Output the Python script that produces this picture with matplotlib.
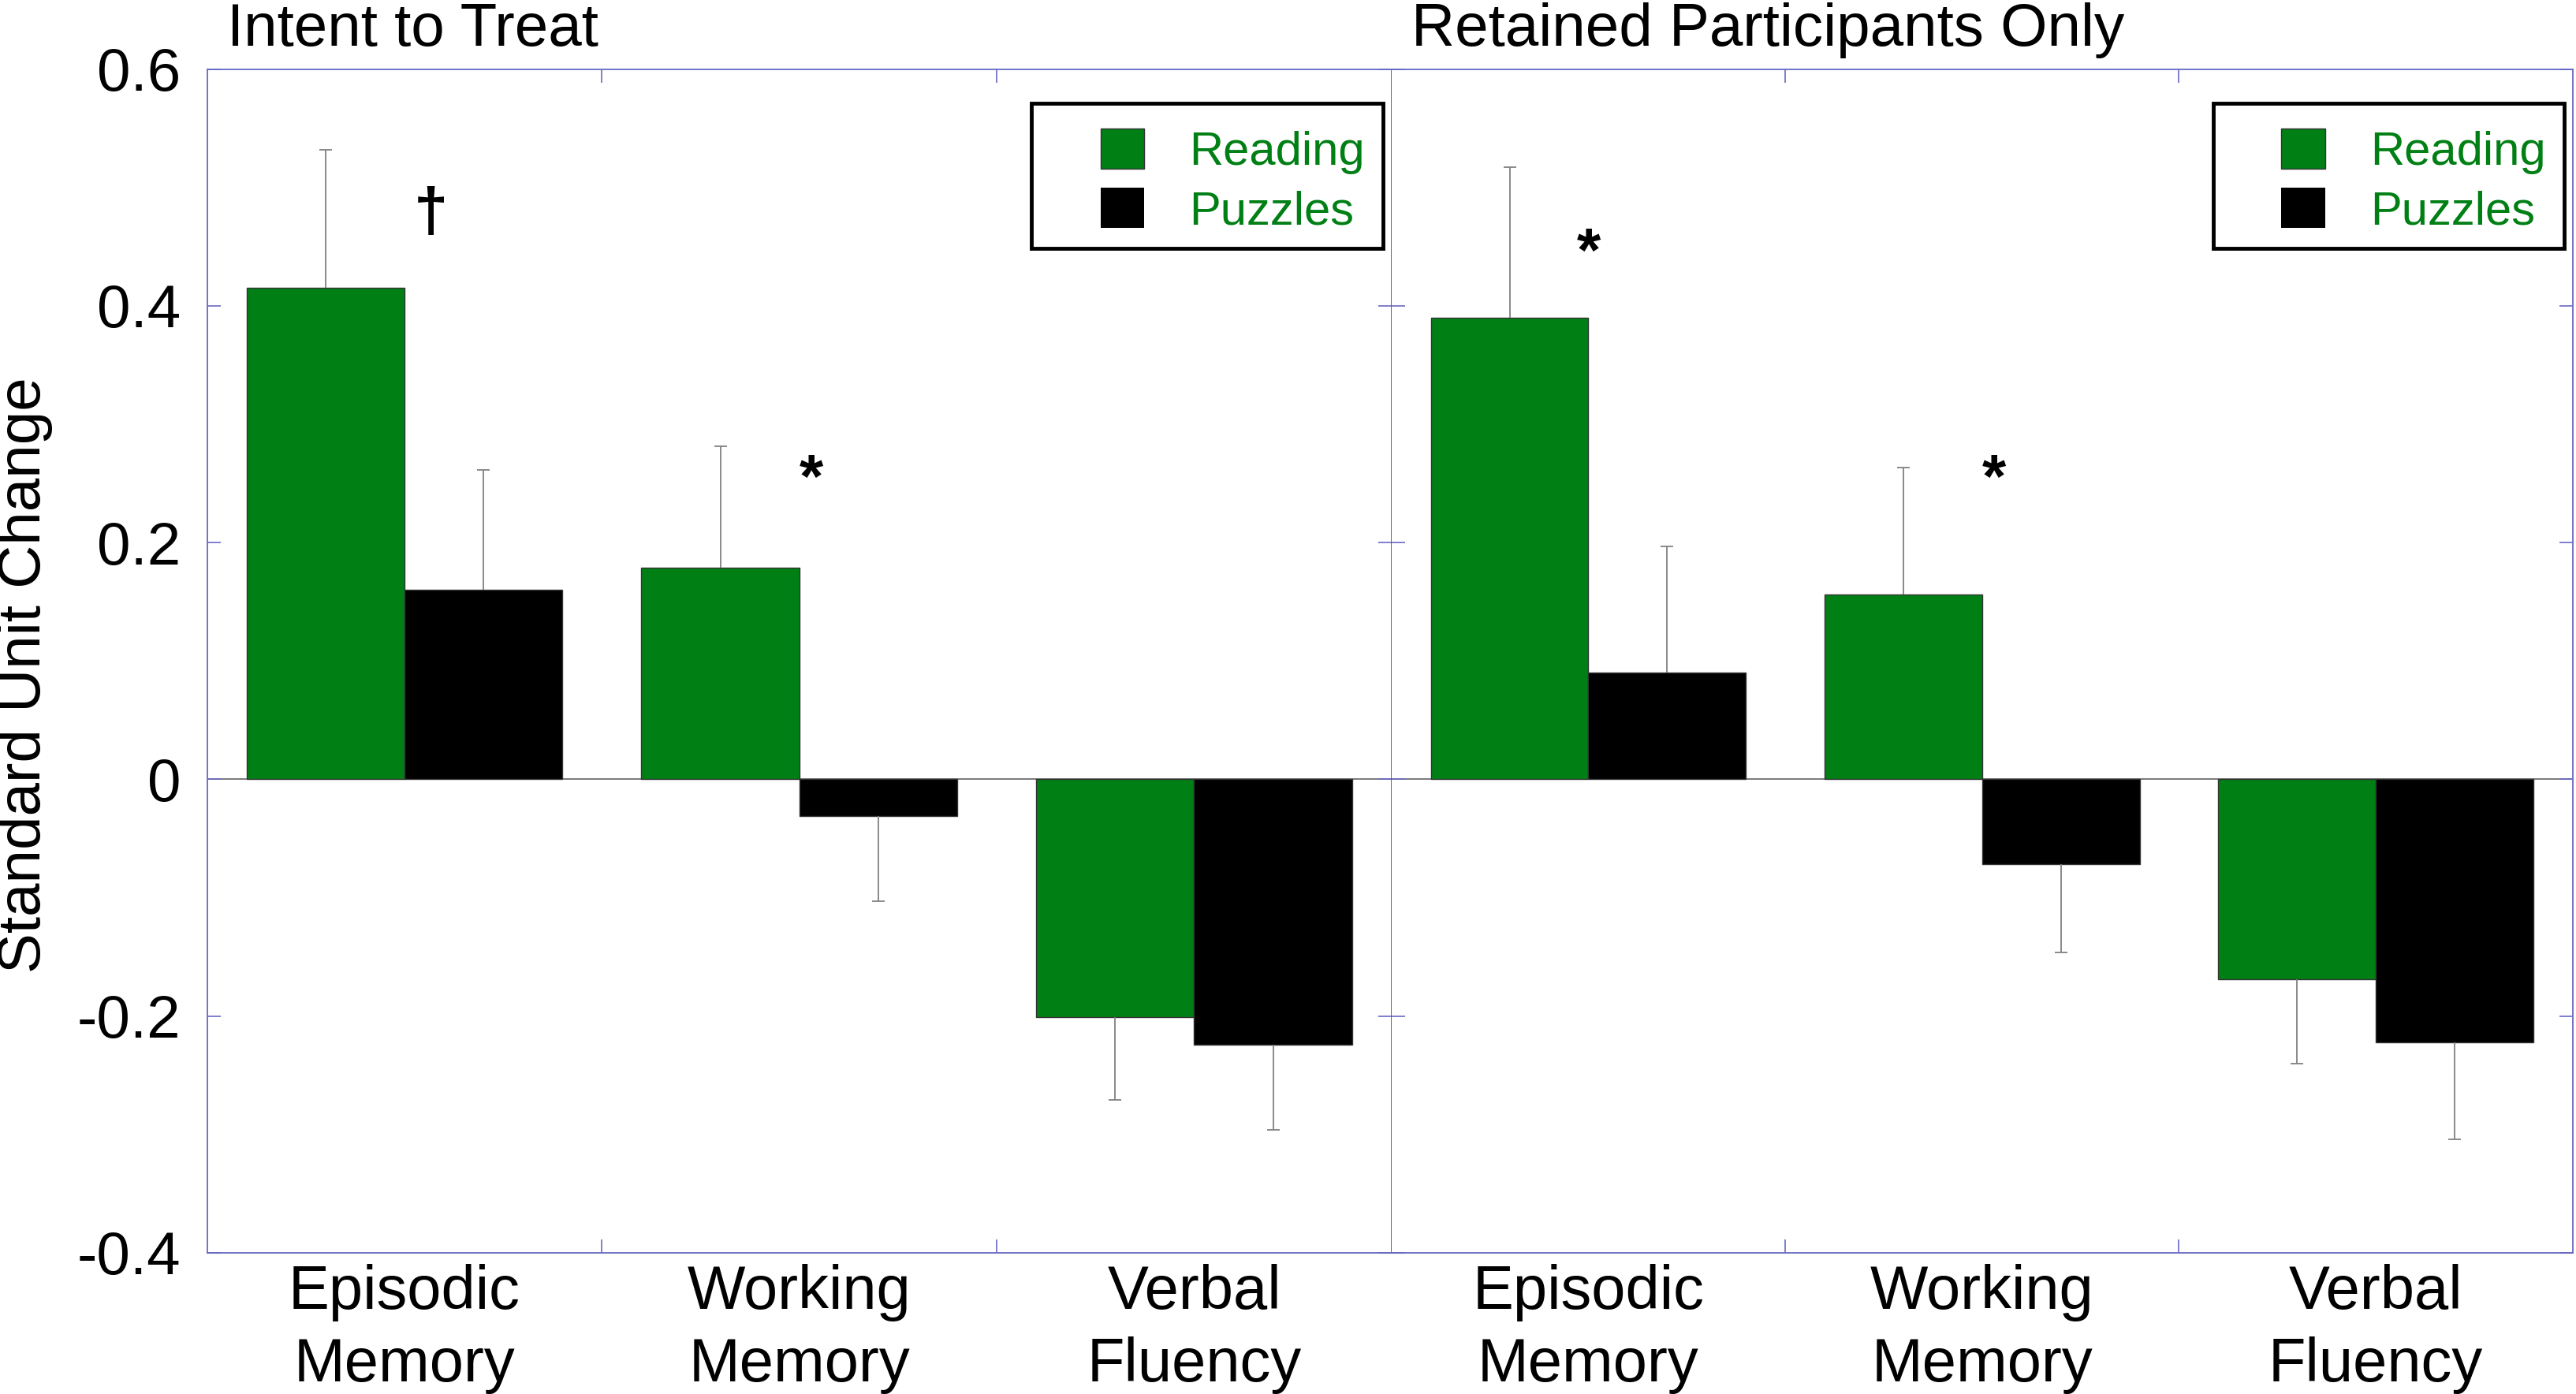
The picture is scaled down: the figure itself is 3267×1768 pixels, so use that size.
import matplotlib
matplotlib.use('Agg')
import matplotlib.pyplot as plt
import numpy as np
from matplotlib.patches import Rectangle, Patch

plt.rcParams['font.family'] = ['Liberation Sans', 'DejaVu Sans']

categories = ['Episodic\nMemory', 'Working\nMemory', 'Verbal\nFluency']
panel_titles = ['Intent to Treat', 'Retained Participants Only']
series = ['Reading', 'Puzzles']

# intent to treat
itt_reading = [0.415, 0.179, -0.201]
itt_reading_err = [0.117, 0.102, 0.070]
itt_puzzles = [0.160, -0.031, -0.224]
itt_puzzles_err = [0.101, 0.072, 0.072]

# retained participants only
ret_reading = [0.390, 0.156, -0.169]
ret_reading_err = [0.127, 0.107, 0.071]
ret_puzzles = [0.090, -0.072, -0.222]
ret_puzzles_err = [0.107, 0.074, 0.082]

# significance marks and the level they sit at
itt_marks = ['†', '*', '']
itt_mark_y = [0.477, 0.252, 0]
ret_marks = ['*', '*', '']
ret_mark_y = [0.443, 0.252, 0]

yticks = [0.6, 0.4, 0.2, 0, -0.2, -0.4]
ytick_labels = ['0.6', '0.4', '0.2', '0', '-0.2', '-0.4']

green = '#007f14'
spine_col = '#6868c4'
err_col = '#808080'

fig = plt.figure(figsize=(32.67, 17.68), dpi=100)
ax1 = fig.add_axes([0.0804, 0.1013, 0.4598, 0.8492])
ax2 = fig.add_axes([0.5402, 0.1013, 0.4585, 0.8492])


def draw_panel(ax, title, reading, reading_err, puzzles, puzzles_err, marks, mark_y, mark_dx, first):
    x = np.arange(len(categories))
    w = 0.4
    ax.axhline(0, color='#555555', lw=1.1, zorder=1.5)
    for vals, errs, col, off in ((reading, reading_err, green, -w / 2),
                                 (puzzles, puzzles_err, 'black', w / 2)):
        vals = np.array(vals)
        errs = np.array(errs)
        ax.bar(x + off, vals, w, color=col, edgecolor='#333333', linewidth=1, zorder=2)
        tips = vals + np.sign(vals) * errs
        ax.vlines(x + off, vals, tips, color=err_col, lw=1.3, zorder=3)
        ax.plot(x + off, tips, ls='none', marker='_', ms=12, mew=1.3, color=err_col, zorder=3)

    for i, m in enumerate(marks):
        if m:
            ax.text(i + mark_dx[i], mark_y[i], m, fontsize=56, fontweight='bold',
                    ha='center', va='center', zorder=4)

    ax.set_xlim(-0.5, 2.5)
    ax.set_ylim(-0.4, 0.6)
    ax.set_yticks(yticks)
    ax.set_yticklabels(ytick_labels)
    ax.set_xticks(x)
    ax.set_xticklabels(categories, linespacing=1.33)
    ax.set_xticks([0.5, 1.5], minor=True)

    ax.tick_params(axis='x', which='major', length=0, pad=10, labelsize=56)
    ax.tick_params(axis='x', which='minor', direction='in', top=True, bottom=True,
                   length=12, width=1.2, color=spine_col)
    ax.tick_params(axis='y', which='major', direction='in', left=True, right=True,
                   length=12, width=1.2, color=spine_col, labelsize=55, pad=24,
                   labelleft=first)

    for s in ax.spines.values():
        s.set_color(spine_col)
        s.set_linewidth(1.3)
    if first:
        ax.spines['right'].set_color('#5050a0')
    else:
        ax.spines['left'].set_visible(False)

    ax.text(0.0166, 1.0194, title, transform=ax.transAxes, fontsize=55,
            ha='left', va='baseline')

    handles = [Patch(facecolor=green, edgecolor='#333333'), Patch(facecolor='black')]
    ax.legend(handles, series, loc='upper right', bbox_to_anchor=(0.993, 0.9655),
              frameon=False, fontsize=43, labelcolor=green, handlelength=0.93,
              handleheight=0.93, handletextpad=0.95, labelspacing=0.29,
              borderpad=0.4, borderaxespad=0)
    ax.add_patch(Rectangle((0.696, 0.8488), 0.297, 0.1221, transform=ax.transAxes,
                           fill=False, lw=3.5, ec='black', zorder=5, clip_on=False))


draw_panel(ax1, panel_titles[0], itt_reading, itt_reading_err, itt_puzzles, itt_puzzles_err,
           itt_marks, itt_mark_y, [0.067, 0.03, 0], True)
draw_panel(ax2, panel_titles[1], ret_reading, ret_reading_err, ret_puzzles, ret_puzzles_err,
           ret_marks, ret_mark_y, [0.0, 0.03, 0], False)

fig.text(0.0095, 0.516, 'Standard Unit Change', rotation=90, fontsize=55,
         ha='center', va='center')

fig.savefig('out.png', dpi=100)
